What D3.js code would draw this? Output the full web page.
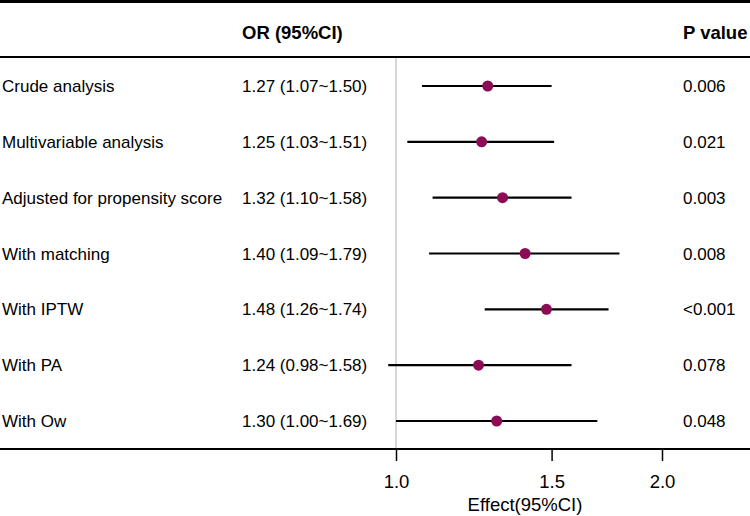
<!DOCTYPE html>
<html>
<head>
<meta charset="utf-8">
<script src="https://cdn.jsdelivr.net/npm/d3@7"></script>
<style>
  body { margin: 0; background: #fff; }
  text { font-family: "Liberation Sans", Arial, sans-serif; fill: #000; }
</style>
</head>
<body>
<script>
// datos del forest plot
var etiquetas = ["Crude analysis", "Multivariable analysis", "Adjusted for propensity score",
                 "With matching", "With IPTW", "With PA", "With Ow"]
var or = [1.27, 1.25, 1.32, 1.40, 1.48, 1.24, 1.30]
var inferior = [1.07, 1.03, 1.10, 1.09, 1.26, 0.98, 1.00]
var superior = [1.50, 1.51, 1.58, 1.79, 1.74, 1.58, 1.69]
var textoOR = ["1.27 (1.07~1.50)", "1.25 (1.03~1.51)", "1.32 (1.10~1.58)", "1.40 (1.09~1.79)",
               "1.48 (1.26~1.74)", "1.24 (0.98~1.58)", "1.30 (1.00~1.69)"]
var pvalores = ["0.006", "0.021", "0.003", "0.008", "<0.001", "0.078", "0.048"]
var ticks = [1.0, 1.5, 2.0]

var width = 750
var height = 516

var datos = etiquetas.map(function (d, i) {
    return {label: d, or: or[i], lo: inferior[i], hi: superior[i], txt: textoOR[i], p: pvalores[i]}
})

// escala X logarítmica
var escalaX = d3.scaleLog()
    .domain([1, 2])
    .range([396, 662])

// escala Y por filas
var escalaY = d3.scalePoint()
    .domain(etiquetas)
    .range([86, 421])

var svg = d3.select("body")
    .append("svg")
    .attr("width", width)
    .attr("height", height)

// líneas horizontales de la tabla
svg.append("line").attr("x1", 0).attr("x2", width).attr("y1", 1.5).attr("y2", 1.5)
    .attr("stroke", "#000").attr("stroke-width", 3)
svg.append("line").attr("x1", 0).attr("x2", width).attr("y1", 57).attr("y2", 57)
    .attr("stroke", "#000").attr("stroke-width", 2)
svg.append("line").attr("x1", 0).attr("x2", width).attr("y1", 449).attr("y2", 449)
    .attr("stroke", "#000").attr("stroke-width", 2)

// línea de referencia en 1
svg.append("line")
    .attr("x1", escalaX(1)).attr("x2", escalaX(1))
    .attr("y1", 58).attr("y2", 448)
    .attr("stroke", "#bdbdbd").attr("stroke-width", 1.2)

// cabeceras
svg.append("text").attr("x", 242).attr("y", 39)
    .attr("font-size", 18.5).attr("font-weight", "bold").text("OR (95%CI)")
svg.append("text").attr("x", 683).attr("y", 39)
    .attr("font-size", 18.5).attr("font-weight", "bold").text("P value")

var filas = svg.selectAll("g.fila")
    .data(datos)
    .enter()
    .append("g")
    .attr("class", "fila")
    .attr("transform", d => "translate(0," + escalaY(d.label) + ")")

filas.append("text").attr("x", 2).attr("dy", "0.36em").attr("font-size", 17).text(d => d.label)
filas.append("text").attr("x", 242).attr("dy", "0.36em").attr("font-size", 17).text(d => d.txt)
filas.append("text").attr("x", 683).attr("dy", "0.36em").attr("font-size", 17).text(d => d.p)

// intervalos de confianza
filas.append("line")
    .attr("x1", d => escalaX(d.lo))
    .attr("x2", d => escalaX(d.hi))
    .attr("stroke", "#000")
    .attr("stroke-width", 2.2)

// puntos
filas.append("circle")
    .attr("cx", d => escalaX(d.or))
    .attr("r", 5.5)
    .attr("fill", "#8c0c55")

// eje X
var ejeX = d3.axisBottom(escalaX)
    .tickValues(ticks)
    .tickFormat(d3.format(".1f"))
    .tickSize(12)
    .tickPadding(0)

var gEje = svg.append("g")
    .attr("transform", "translate(0,449)")
    .call(ejeX)
gEje.select(".domain").remove()
gEje.selectAll("line").attr("stroke", "#000").attr("stroke-width", 1.5)
gEje.selectAll("text")
    .attr("y", 39)
    .attr("dy", null)
    .attr("font-size", 18.5)
    .attr("font-family", "Liberation Sans, Arial, sans-serif")

svg.append("text")
    .attr("text-anchor", "middle")
    .attr("x", 525)
    .attr("y", 511)
    .attr("font-size", 18.5)
    .text("Effect(95%CI)")
</script>
</body>
</html>
